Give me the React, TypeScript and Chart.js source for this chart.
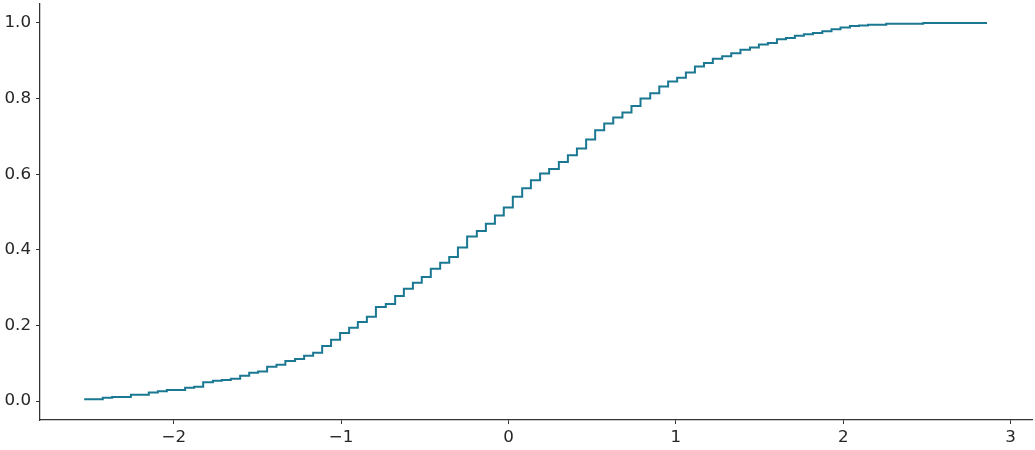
import React, { useEffect, useRef } from "react";
import { Chart, registerables } from "chart.js";

Chart.register(...registerables);

// Step positions (x) of the empirical cumulative curve and the cumulative proportion held after each step
const stepX: number[] = [
  -2.529, -2.424, -2.368, -2.256, -2.149, -2.095, -2.041, -1.932, -1.878, -1.824,
  -1.766, -1.713, -1.659, -1.603, -1.549, -1.496, -1.442, -1.386, -1.333, -1.275,
  -1.221, -1.167, -1.113, -1.060, -1.006, -0.952, -0.900, -0.846, -0.792, -0.733,
  -0.677, -0.625, -0.571, -0.518, -0.464, -0.408, -0.354, -0.302, -0.247, -0.189,
  -0.135, -0.081, -0.028, 0.026, 0.082, 0.134, 0.189, 0.243, 0.301, 0.355,
  0.409, 0.464, 0.518, 0.572, 0.626, 0.681, 0.735, 0.789, 0.847, 0.901,
  0.954, 1.008, 1.060, 1.114, 1.168, 1.221, 1.277, 1.331, 1.386, 1.443,
  1.496, 1.550, 1.604, 1.658, 1.711, 1.765, 1.819, 1.875, 1.930, 1.984,
  2.040, 2.094, 2.148, 2.257, 2.478, 2.747, 2.859,
];

const cumProportion: number[] = [
  0.002, 0.005, 0.009, 0.011, 0.017, 0.023, 0.026, 0.029, 0.035, 0.038,
  0.050, 0.054, 0.056, 0.059, 0.067, 0.075, 0.078, 0.091, 0.096, 0.106,
  0.111, 0.120, 0.128, 0.146, 0.162, 0.180, 0.194, 0.209, 0.223, 0.249,
  0.257, 0.278, 0.297, 0.313, 0.328, 0.350, 0.366, 0.381, 0.406, 0.435,
  0.450, 0.469, 0.491, 0.512, 0.540, 0.563, 0.584, 0.602, 0.614, 0.632,
  0.650, 0.668, 0.692, 0.716, 0.734, 0.750, 0.763, 0.780, 0.800, 0.814,
  0.832, 0.845, 0.855, 0.869, 0.885, 0.894, 0.905, 0.912, 0.920, 0.929,
  0.935, 0.943, 0.947, 0.957, 0.960, 0.966, 0.970, 0.973, 0.978, 0.983,
  0.988, 0.992, 0.993, 0.995, 0.998, 1.0, 1.0,
];

const xTickValues: number[] = [-2, -1, 0, 1, 2, 3];
const yTickValues: number[] = [0, 0.2, 0.4, 0.6, 0.8, 1.0];

const LINE_COLOR = "#1a7892";
const AXIS_COLOR = "#333333";
const TEXT_COLOR = "#262626";
const FONT = "'DejaVu Sans', sans-serif";

export default function App() {
  const canvasRef = useRef<HTMLCanvasElement | null>(null);

  useEffect(() => {
    if (!canvasRef.current) return;
    const points = stepX.map((x, i) => ({ x, y: cumProportion[i] }));
    const chart = new Chart(canvasRef.current, {
      type: "line",
      data: {
        datasets: [
          {
            data: points,
            stepped: "after",
            borderColor: LINE_COLOR,
            borderWidth: 2,
            pointRadius: 0,
            fill: false,
          },
        ],
      },
      options: {
        animation: false,
        responsive: true,
        maintainAspectRatio: false,
        layout: { padding: { top: 4, right: 3, left: 0, bottom: 0 } },
        plugins: { legend: { display: false }, tooltip: { enabled: false } },
        scales: {
          x: {
            type: "linear",
            min: -2.799,
            max: 3.128,
            afterFit: (scale: any) => {
              scale.height = 30;
              scale.paddingLeft = 0;
              scale.paddingRight = 0;
            },
            afterBuildTicks: (scale: any) => {
              scale.ticks = xTickValues.map((v) => ({ value: v }));
            },
            grid: {
              drawOnChartArea: false,
              drawTicks: true,
              tickLength: 4,
              tickColor: AXIS_COLOR,
              tickWidth: 1,
            },
            border: { display: true, color: AXIS_COLOR, width: 1.25 },
            ticks: {
              color: TEXT_COLOR,
              font: { family: FONT, size: 16.7 },
              padding: 4,
              maxRotation: 0,
              autoSkip: false,
              callback: (v: any) => String(v).replace("-", "\u2212"),
            },
          },
          y: {
            type: "linear",
            min: -0.05,
            max: 1.05,
            afterFit: (scale: any) => {
              scale.width = 40;
              scale.paddingTop = 0;
              scale.paddingBottom = 0;
            },
            afterBuildTicks: (scale: any) => {
              scale.ticks = yTickValues.map((v) => ({ value: v }));
            },
            grid: {
              drawOnChartArea: false,
              drawTicks: true,
              tickLength: 4,
              tickColor: AXIS_COLOR,
              tickWidth: 1,
            },
            border: { display: true, color: AXIS_COLOR, width: 1.25 },
            ticks: {
              color: TEXT_COLOR,
              font: { family: FONT, size: 16.7 },
              padding: 5,
              autoSkip: false,
              callback: (v: any) => Number(v).toFixed(1),
            },
          },
        },
      },
    });
    return () => chart.destroy();
  }, []);

  return (
    <div style={{ position: "absolute", left: 0, top: 0, width: 1035, height: 450, background: "#fff" }}>
      <canvas ref={canvasRef} />
    </div>
  );
}
